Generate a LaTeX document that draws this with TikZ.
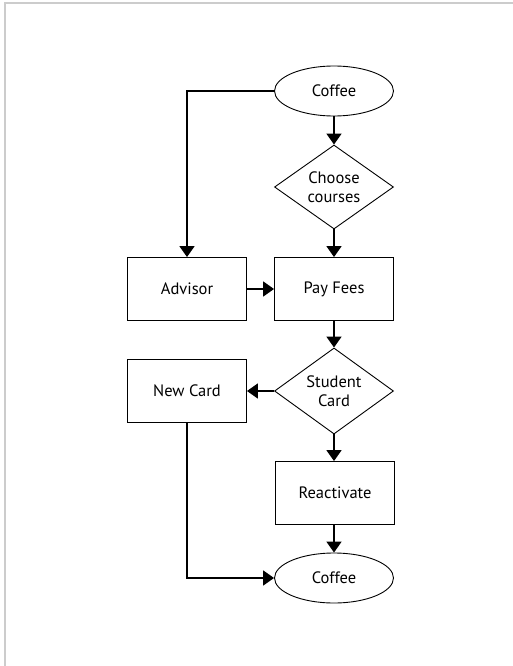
\documentclass[tikz,border=0pt]{standalone}
\usepackage{fontspec}
\setmainfont{PT Sans}
\usepackage{tikz}
\usetikzlibrary{shapes.geometric, arrows.meta, positioning}

\begin{document}
\begin{tikzpicture}[x=1pt, y=-1pt,
  every node/.style={font=\fontsize{16.5}{19}\selectfont, align=center, inner sep=0pt},
  terminal/.style={draw, ellipse, line width=0.9pt, minimum width=119pt, minimum height=50pt},
  process/.style={draw, rectangle, line width=0.9pt, minimum width=119pt, minimum height=63pt},
  decision/.style={draw, diamond, line width=0.9pt, minimum width=119pt, minimum height=84pt},
  flow/.style={line width=1.8pt, -{Triangle[length=11pt, width=15pt]}}]
\useasboundingbox (0,0) rectangle (513,666);
% page frame
\draw[gray!40, line width=1.5pt] (5,666) -- (5,3) -- (513,3);

% nodes
\node[terminal] (start) at (334,91) {Coffee};
\node[decision] (choose) at (334,187) {Choose\\courses};
\node[process] (advisor) at (187,289) {Advisor};
\node[process] (fees) at (334,289) {Pay Fees};
\node[decision] (card) at (334,391) {Student\\Card};
\node[process] (newcard) at (187,391) {New Card};
\node[process] (react) at (335,493) {Reactivate};
\node[terminal] (stop) at (334,578) {Coffee};

% connectors
\draw[flow] (start) -- (choose);
\draw[flow] (start.west) -| (advisor.north);
\draw[flow] (choose) -- (fees);
\draw[flow] (advisor) -- (fees);
\draw[flow] (fees) -- (card);
\draw[flow] (card) -- (newcard);
\draw[flow] (card.south) -- (card.south |- react.north);
\draw[flow] (react.south -| stop.north) -- (stop);
\draw[flow] (newcard.south) |- (stop.west);
\end{tikzpicture}
\end{document}
